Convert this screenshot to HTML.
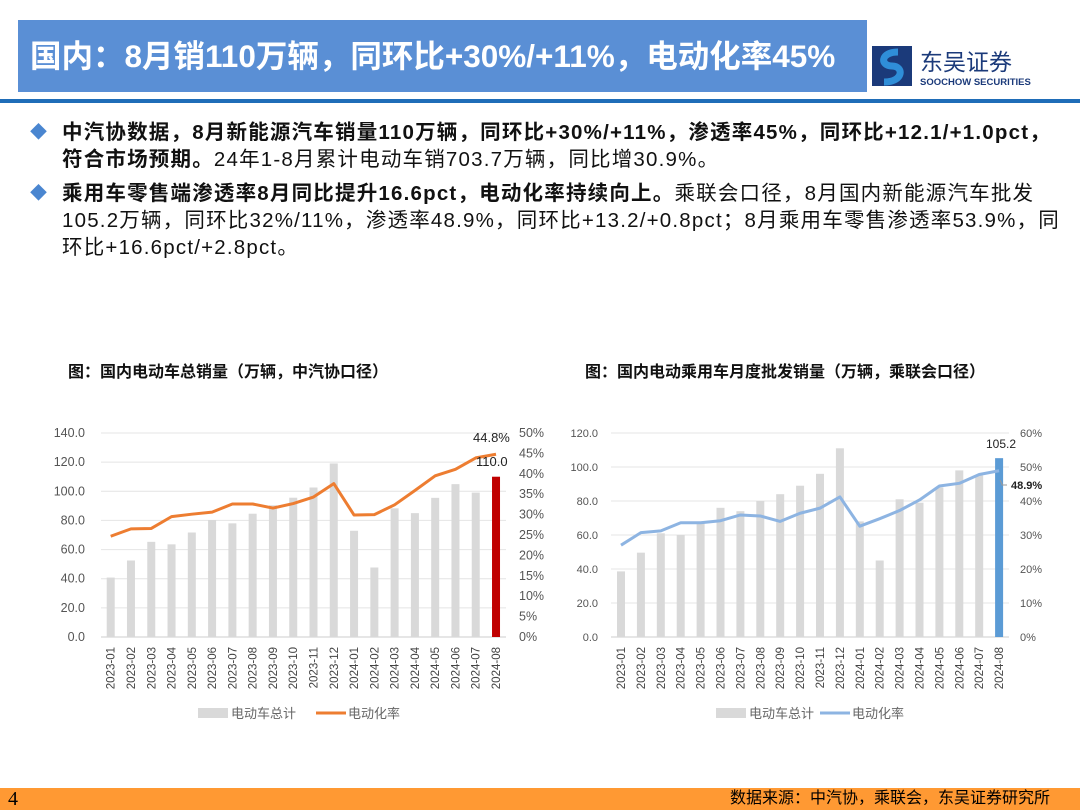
<!DOCTYPE html>
<html><head><meta charset="utf-8"><style>
body{margin:0;width:1080px;height:810px;position:relative;background:#fff;font-family:"Liberation Sans","Noto Sans CJK SC",sans-serif;overflow:hidden}
.title{position:absolute;left:18px;top:20px;width:849px;height:72px;background:#5A8FD5;color:#fff;font-weight:bold;font-size:31.5px;line-height:72px;padding-left:12px;box-sizing:border-box;white-space:nowrap}
.bar{position:absolute;left:0;top:99px;width:1080px;height:4px;background:#1F6DB8}
.txt{position:absolute;left:28px;top:119px;width:1050px;font-size:20.5px;color:#111;line-height:27px;white-space:nowrap;letter-spacing:1.2px}
.txt p{margin:0 0 7px 0;padding-left:34px;position:relative}
.txt p:before{content:"◆";position:absolute;left:2px;top:0;color:#4A86D0;font-size:17px}
.foot{position:absolute;left:0;top:788px;width:1080px;height:22px;background:#FF9933;font-size:16px;line-height:22px}
.ct{position:absolute;font-weight:bold;font-size:16px;color:#111}
</style></head><body>
<div class="title">国内：8月销110万辆，同环比+30%/+11%，电动化率45%</div>
<svg style="position:absolute;left:870px;top:44px" width="190" height="46">
<rect x="2" y="2" width="40" height="40" fill="#1B3A7A"/>
<path d="M28 8 C10 8 10 22 22 22 C34 22 34 38 14 38" stroke="#2F8ED8" stroke-width="7" fill="none"/>
<text x="50" y="26" font-size="23" fill="#1B3A7A" font-family="Noto Sans CJK SC,sans-serif">东吴证券</text>
<text x="50" y="41" font-size="9.5" font-weight="bold" fill="#1B3A7A" font-family="Liberation Sans,sans-serif">SOOCHOW SECURITIES</text>
</svg>
<div class="bar"></div>
<div class="txt">
<p><b>中汽协数据，8月新能源汽车销量110万辆，同环比+30%/+11%，渗透率45%，同环比+12.1/+1.0pct，<br>符合市场预期。</b>24年1-8月累计电动车销703.7万辆，同比增30.9%。</p>
<p><b>乘用车零售端渗透率8月同比提升16.6pct，电动化率持续向上。</b>乘联会口径，8月国内新能源汽车批发<br>105.2万辆，同环比32%/11%，渗透率48.9%，同环比+13.2/+0.8pct；8月乘用车零售渗透率53.9%，同<br>环比+16.6pct/+2.8pct。</p>
</div>
<div class="ct" style="left:68px;top:358px">图：国内电动车总销量（万辆，中汽协口径）</div>
<div class="ct" style="left:585px;top:358px">图：国内电动乘用车月度批发销量（万辆，乘联会口径）</div>
<svg id="s" style="position:absolute;left:0;top:0" width="1080" height="810"></svg>
<div class="foot"><span style="position:absolute;left:8px;font-family:'Liberation Serif',serif;font-size:20px">4</span><span style="position:absolute;right:30px">数据来源：中汽协，乘联会，东吴证券研究所</span></div>
<script>
var s=document.getElementById('s'),h='';
var months=[];for(var y of ['2023','2024'])for(var m=1;m<=12;m++){if(y=='2024'&&m>8)break;months.push(y+'-'+(m<10?'0':'')+m);}
function chart(o){
 var y0=637,y1=433,H=y0-y1;
 for(var i=0;i<=o.n;i++){var y=y0-H*i/o.n;h+='<line x1="'+o.gx0+'" x2="'+o.gx1+'" y1="'+y+'" y2="'+y+'" stroke="'+(i==0?'#ccc':'#e4e4e4')+'"/>';
 h+='<text x="'+o.lx+'" y="'+(y+4)+'" font-size="'+o.fs+'" fill="#555" text-anchor="end">'+(i*o.max/o.n).toFixed(1)+'</text>';}
 for(var i=0;i<=o.rn;i++){var y=y0-H*i/o.rn;
 h+='<text x="'+o.rx+'" y="'+(y+4)+'" font-size="'+o.fs+'" fill="#555">'+Math.round(i*o.rmax/o.rn)+'%</text>';}
 var pts=[];
 for(var i=0;i<20;i++){var cx=o.c0+i*o.dx,v=o.b[i],bh=H*v/o.max;
  h+='<rect x="'+(cx-4)+'" y="'+(y0-bh)+'" width="8" height="'+bh+'" fill="'+(i==19?o.last:'#d9d9d9')+'"/>';
  pts.push(cx+','+(y0-H*o.r[i]/o.rmax));
  h+='<text transform="translate('+(cx+4)+',647) rotate(-90)" font-size="11.5" fill="#444" text-anchor="end">'+months[i]+'</text>';}
 h+='<polyline points="'+pts.join(' ')+'" fill="none" stroke="'+o.lc+'" stroke-width="3" stroke-linejoin="round"/>';
 h+='<rect x="'+o.lgx+'" y="708" width="30" height="10" fill="#d9d9d9"/><text x="'+(o.lgx+33)+'" y="718" font-size="13" fill="#666">电动车总计</text>';
 h+='<line x1="'+(o.lgx+o.lo)+'" x2="'+(o.lgx+o.lo+30)+'" y1="713" y2="713" stroke="'+o.lc+'" stroke-width="3"/><text x="'+(o.lgx+o.lo+32)+'" y="718" font-size="13" fill="#666">电动化率</text>';
}
chart({n:7,rn:10,max:140,rmax:50,gx0:101,gx1:506,lx:85,rx:519,fs:12.5,c0:110.7,dx:20.28,last:'#C00000',lc:'#ED7D31',lgx:198,lo:118,
 b:[40.8,52.5,65.3,63.6,71.7,80.3,78.0,84.6,90.4,95.6,102.6,119.1,72.9,47.7,88.3,85.0,95.5,104.9,99.1,110.0],
 r:[24.7,26.5,26.6,29.5,30.1,30.6,32.6,32.6,31.6,32.7,34.3,37.6,29.9,30.0,32.4,35.9,39.5,41.1,43.9,44.8]});
chart({n:6,rn:6,max:120,rmax:60,gx0:611,gx1:1009,lx:598,rx:1020,fs:11,c0:621,dx:19.9,last:'#5B9BD5',lc:'#8DB4E2',lgx:716,lo:104,
 b:[38.6,49.6,61,60,67,76,74,80,84,89,96,111,68,45,81,79,88,98,95,105.2],
 r:[27,30.7,31.2,33.6,33.6,34.2,35.9,35.6,34.0,36.4,37.9,41.2,32.6,34.8,37.2,40.3,44.4,45.2,47.8,48.9]});
h+='<text x="473" y="442" font-size="13" fill="#222">44.8%</text><text x="476" y="466" font-size="13" fill="#222">110.0</text>';
h+='<text x="986" y="448" font-size="12" fill="#222">105.2</text>';
h+='<polyline points="1000,480 1002,484 1002,485 1007,485" fill="none" stroke="#999"/><text x="1011" y="489" font-size="11" font-weight="bold" fill="#222">48.9%</text>';
s.innerHTML=h;
</script>
</body></html>
